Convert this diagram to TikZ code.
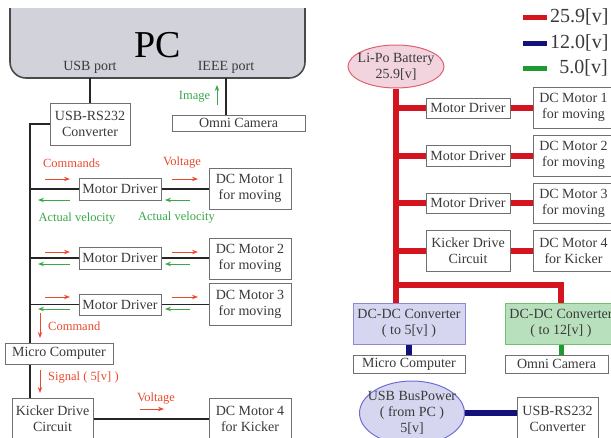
\documentclass[tikz,border=0pt]{standalone}
\usepackage{fontspec}
\setmainfont{Liberation Serif}
\usetikzlibrary{arrows.meta,shapes.geometric,backgrounds}
\newcommand{\fsz}[2]{\fontsize{#1}{#2}\selectfont}
\definecolor{pcgray}{HTML}{D2D3DA}
\definecolor{pcborder}{HTML}{4A4A4A}
\definecolor{boxgray}{HTML}{707070}
\definecolor{txtgray}{HTML}{3A3A3A}
\definecolor{redtxt}{HTML}{E84A30}
\definecolor{greentxt}{HTML}{3AA84A}
\definecolor{pwred}{HTML}{D4141F}
\definecolor{pwblue}{HTML}{12127A}
\definecolor{pwgreen}{HTML}{1E9A30}
\definecolor{lipofill}{HTML}{F2D4DE}
\definecolor{lipoborder}{HTML}{E0606E}
\definecolor{lavfill}{HTML}{D6D6F0}
\definecolor{lavborder}{HTML}{8A8AD0}
\definecolor{grfill}{HTML}{B8E0BC}
\definecolor{grborder}{HTML}{70C070}
\tikzset{
  box/.style={draw=boxgray, line width=0.9pt, fill=white, text=txtgray,
    inner sep=0pt, align=center, font=\fsz{14}{16}},
  wire/.style={line width=1.8pt, draw=black!85},
  rarr/.style={draw=redtxt, line width=1pt, -{Stealth[length=6pt,width=4.5pt]}},
  garr/.style={draw=greentxt, line width=1pt, -{Stealth[length=6pt,width=4.5pt]}},
  rlab/.style={text=redtxt, font=\fsz{12.5}{14}, inner sep=0pt},
  glab/.style={text=greentxt, font=\fsz{12.5}{14}, inner sep=0pt},
  pw/.style={line width=6pt, draw=pwred},
  legtxt/.style={text=txtgray, font=\fsz{20}{22}, inner sep=0pt},
  port/.style={text=txtgray, font=\fsz{14}{16}, inner sep=0pt}
}
\begin{document}
\begin{tikzpicture}[x=1pt,y=-1pt]
\useasboundingbox (0,0) rectangle (611,437);
\clip (0,0) rectangle (611,437);

% ---------------- left panel ----------------
\node[text=black, font=\fsz{38}{40}, inner sep=0pt] (pc) at (157.5,45) {PC};
\node[port] (usblab) at (90,67) {USB port};
\node[port] (ieeelab) at (226,67) {IEEE port};
\coordinate (usbport) at (90,78);
\coordinate (ieeeport) at (226,78);
\coordinate (busx) at (30,0);

\node[box, minimum width=80pt, minimum height=42pt] (usbconv) at (90,124) {USB-RS232\\Converter};
\node[box, minimum width=133pt, minimum height=16pt] (omniL) at (238.5,123) {Omni Camera};
\node[box, minimum width=82pt, minimum height=22pt] (md1) at (120,189) {Motor Driver};
\node[box, minimum width=82pt, minimum height=41pt] (dcm1) at (250,188.5) {DC Motor 1\\for moving};
\node[box, minimum width=82pt, minimum height=22pt] (md2) at (120,258) {Motor Driver};
\node[box, minimum width=82pt, minimum height=41pt] (dcm2) at (250,258.5) {DC Motor 2\\for moving};
\node[box, minimum width=82pt, minimum height=21pt] (md3) at (120,304.5) {Motor Driver};
\node[box, minimum width=82pt, minimum height=42pt] (dcm3) at (250,304) {DC Motor 3\\for moving};
\node[box, minimum width=108pt, minimum height=21pt] (microL) at (59,353.5) {Micro Computer};
\node[box, minimum width=81pt, minimum height=42pt] (kickL) at (52.5,419) {Kicker Drive\\Circuit};
\node[box, minimum width=82pt, minimum height=42pt] (dcm4) at (250,419) {DC Motor 4\\for Kicker};

% labels
\node[glab] (imglab) at (194.5,97) {Image};
\coordinate (imgA) at (217,105);
\coordinate (imgB) at (217,85);
\draw[garr] (imgA) -- (imgB);

\node[rlab] (cmdslab) at (71.5,163) {Commands};
\node[rlab] (volt1lab) at (182,163) {Voltage};
\node[glab] (av1lab) at (77,219) {Actual velocity};
\node[glab] (av2lab) at (176.5,218) {Actual velocity};
\node[rlab, anchor=west] (cmdlab) at (48,326) {Command};
\node[rlab, anchor=west] (siglab) at (48,378) {Signal ( 5[v] )};
\node[rlab] (volt4lab) at (156,399) {Voltage};

% arrows, rows
\foreach \r/\g [count=\i] in {179/200, 252/264, 297/309}{
  \coordinate (ra\i) at (45,\r);  \coordinate (rb\i) at (70,\r);
  \coordinate (rc\i) at (172,\r); \coordinate (rd\i) at (198,\r);
  \coordinate (ga\i) at (70,\g);  \coordinate (gb\i) at (38,\g);
  \coordinate (gc\i) at (190,\g); \coordinate (gd\i) at (165,\g);
  \draw[rarr] (ra\i) -- (rb\i);
  \draw[rarr] (rc\i) -- (rd\i);
  \draw[garr] (ga\i) -- (gb\i);
  \draw[garr] (gc\i) -- (gd\i);
}
\coordinate (cmdA) at (40,313); \coordinate (cmdB) at (40,338);
\draw[rarr] (cmdA) -- (cmdB);
\coordinate (sigA) at (40,370); \coordinate (sigB) at (40,393);
\draw[rarr] (sigA) -- (sigB);
\coordinate (v4A) at (140,409); \coordinate (v4B) at (164,409);
\draw[rarr] (v4A) -- (v4B);

% ---------------- right panel ----------------
\node[legtxt, anchor=west] (leg1) at (550,17) {25.9[v]};
\node[legtxt, anchor=west] (leg2) at (550,43) {12.0[v]};
\node[legtxt, anchor=east] (leg3) at (608,68) {5.0[v]};
\coordinate (l1a) at (523,17); \coordinate (l1b) at (547,17);
\coordinate (l2a) at (523,43); \coordinate (l2b) at (547,43);
\coordinate (l3a) at (523,68); \coordinate (l3b) at (547,68);
\draw[line width=5pt, pwred] (l1a) -- (l1b);
\draw[line width=5pt, pwblue] (l2a) -- (l2b);
\draw[line width=5pt, pwgreen] (l3a) -- (l3b);

\node[ellipse, draw=lipoborder, fill=lipofill, line width=1pt, text=txtgray,
  font=\fsz{14}{16}, align=center, inner xsep=-8pt, inner ysep=-2pt,
  minimum width=96pt, minimum height=43pt] (lipo) at (396,66.5) {Li-Po Battery\\25.9[v]};

\node[box, minimum width=84pt, minimum height=20pt] (rmd1) at (468,108) {Motor Driver};
\node[box, minimum width=84pt, minimum height=21pt] (rmd2) at (468,155.5) {Motor Driver};
\node[box, minimum width=84pt, minimum height=20pt] (rmd3) at (468,203) {Motor Driver};
\node[box, minimum width=84pt, minimum height=41pt] (rkick) at (468,250.5) {Kicker Drive\\Circuit};
\node[box, minimum width=81pt, minimum height=41pt] (rdc1) at (573.5,107.5) {DC Motor 1\\for moving};
\node[box, minimum width=81pt, minimum height=41pt] (rdc2) at (573.5,155.5) {DC Motor 2\\for moving};
\node[box, minimum width=81pt, minimum height=40pt] (rdc3) at (573.5,203) {DC Motor 3\\for moving};
\node[box, minimum width=81pt, minimum height=41pt] (rdc4) at (573.5,250.5) {DC Motor 4\\for Kicker};

\node[box, draw=lavborder, fill=lavfill, minimum width=112pt, minimum height=41pt] (conv5) at (409,323.5) {DC-DC Converter\\( to 5[v] )};
\node[box, draw=grborder, fill=grfill, minimum width=112pt, minimum height=41pt] (conv12) at (561,323.5) {DC-DC Converter\\( to 12[v] )};
\node[box, minimum width=112pt, minimum height=18pt] (rmicro) at (409,364) {Micro Computer};
\node[box, minimum width=103pt, minimum height=18pt] (romni) at (556.5,364) {Omni Camera};

\node[ellipse, draw=lavborder!80!blue, fill=lavfill, line width=1pt, text=txtgray,
  font=\fsz{14}{16}, align=center, inner xsep=-10pt, inner ysep=-4pt,
  minimum width=105pt, minimum height=64pt] (usbpow) at (412,413) {USB BusPower\\( from PC )\\5[v]};
\node[box, minimum width=81pt, minimum height=43pt] (rusb) at (557.5,418.5) {USB-RS232\\Converter};

\coordinate (rj) at (396,285);

% ---------------- connectors (background) ----------------
\begin{scope}[on background layer]
  % PC box
  \draw[pcborder, fill=pcgray, line width=1.6pt, rounded corners=16pt]
    (10,8) -- (10,78) -- (305,78) -- (305,8);
  \draw[wire] (usbport) -- (usbconv.north);
  \draw[wire] (ieeeport) -- (ieeeport |- omniL.north);
  \draw[wire] (usbconv.west) -| (microL.north -| busx);
  \draw[wire] (microL.south -| busx) -- (kickL.north -| busx);
  \draw[wire] (md1.west -| busx) -- (md1.west);
  \draw[wire] (md2.west -| busx) -- (md2.west);
  \draw[wire] (md3.west -| busx) -- (md3.west);
  \draw[wire] (md1.east) -- (md1.east -| dcm1.west);
  \draw[wire] (md2.east) -- (md2.east -| dcm2.west);
  \draw[wire] (md3.east) -- (md3.east -| dcm3.west);
  \draw[wire] (kickL.east) -- (kickL.east -| dcm4.west);

  % power wiring
  \draw[pw] (lipo.south) -- (lipo.south |- conv5.north);
  \draw[pw, line join=miter] (rj) -| (conv12.north);
  \draw[pw] (lipo.south |- rmd1.west) -- (rmd1.west);
  \draw[pw] (lipo.south |- rmd2.west) -- (rmd2.west);
  \draw[pw] (lipo.south |- rmd3.west) -- (rmd3.west);
  \draw[pw] (lipo.south |- rkick.west) -- (rkick.west);
  \draw[pw] (rmd1.east) -- (rmd1.east -| rdc1.west);
  \draw[pw] (rmd2.east) -- (rmd2.east -| rdc2.west);
  \draw[pw] (rmd3.east) -- (rmd3.east -| rdc3.west);
  \draw[pw] (rkick.east) -- (rkick.east -| rdc4.west);
  \draw[line width=5.5pt, pwblue] (conv5.south) -- (rmicro.north);
  \draw[line width=5pt, pwgreen] (conv12.south) -- (conv12.south |- romni.north);
  \draw[line width=6.5pt, pwblue] (usbpow.east) -- (usbpow.east -| rusb.west);
\end{scope}
\end{tikzpicture}
\end{document}
